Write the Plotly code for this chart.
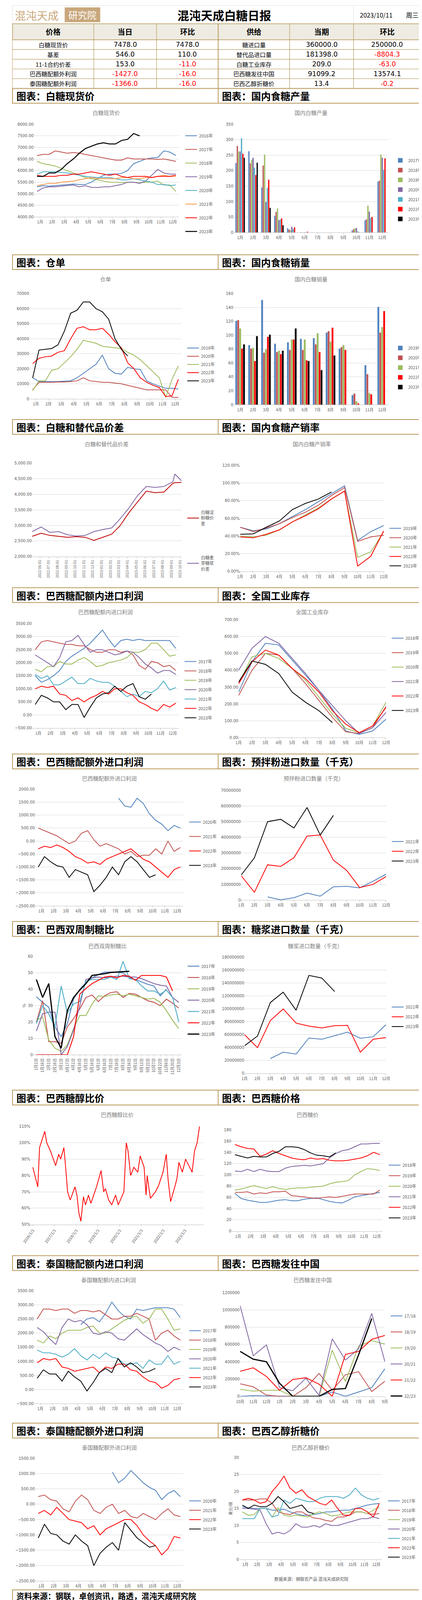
import plotly.graph_objects as go

W, HT = 1080, 4098
FONT = "Noto Sans CJK SC"
BLUE, BROWN, GREEN, PURPLE, TEAL, ORANGE, RED, BLACK = "#4F81BD", "#C0504D", "#9BBB59", "#8064A2", "#4BACC6", "#F79646", "#FF0000", "#000000"
MONTHS = [f"{i}月" for i in range(1, 13)]
SEASON_MONTHS = ["10月", "11月", "12月", "1月", "2月", "3月", "4月", "5月", "6月", "7月", "8月", "9月"]

# ---------------- table data ----------------
price_names = ["白糖现货价", "基差", "11-1合约价差", "巴西糖配额外利润", "泰国糖配额外利润"]
price_today = ["7478.0", "546.0", "153.0", "-1427.0", "-1366.0"]
price_chg = ["7478.0", "110.0", "-11.0", "-16.0", "-16.0"]
supply_names = ["糖进口量", "替代品进口量", "白糖工业库存", "巴西糖发往中国", "巴西乙醇折糖价"]
supply_now = ["360000.0", "181398.0", "209.0", "91099.2", "13.4"]
supply_chg = ["250000.0", "-8804.3", "-63.0", "13574.1", "-0.2"]

# ---------------- chart data ----------------
spot_2016 = [5300, 5350, 5330, 5350, 5370, 5400, 5420, 5400, 5400, 5500, 5650, 5800, 5850, 5850, 5880, 6000, 6300, 6400, 6500, 6550, 6560, 6850, 6800, 6650]
spot_2017 = [6650, 6700, 6700, 6850, 6800, 6750, 6780, 6750, 6700, 6650, 6600, 6550, 6500, 6450, 6450, 6550, 6500, 6500, 6500, 6500, 6480, 6500, 6450, 6400]
spot_2018 = [6400, 6300, 6250, 6200, 6100, 6000, 5900, 5800, 5700, 5650, 5600, 5550, 5500, 5500, 5480, 5500, 5500, 5470, 5500, 5500, 5550, 5380, 5380, 5100]
spot_2019 = [5100, 5250, 5300, 5300, 5330, 5350, 5380, 5300, 5350, 5280, 5270, 5300, 5300, 5350, 5400, 5500, 5500, 5450, 5550, 5800, 6050, 5900, 5850, 5850]
spot_2020 = [5850, 5950, 5950, 5950, 5920, 5900, 5850, 5800, 5750, 5720, 5700, 5700, 5700, 5650, 5600, 5600, 5650, 5600, 5550, 5500, 5400, 5400, 5350, 5380]
spot_2021 = [5350, 5400, 5450, 5450, 5500, 5520, 5550, 5600, 5650, 5700, 5650, 5650, 5650, 5650, 5700, 5700, 5650, 5650, 5700, 5700, 5750, 5800, 5750, 5750]
spot_2022 = [5800, 5750, 5750, 5750, 5800, 5800, 5850, 5850, 5900, 5950, 5900, 5850, 5800, 5850, 5750, 5700, 5750, 5750, 5750, 5700, 5750, 5750, 5750, 5800]
spot_2023 = [5750, 5750, 5900, 5900, 6050, 6300, 6500, 6750, 6950, 7050, 7150, 7200, 7150, 7150, 7300, 7350, 7600, 7500]

prod_2017 = [225, 263, 146, 54, 14, 1, 0, 0, 0, 7, 40, 165]
prod_2018 = [280, 224, 217, 67, 10, 1, 0, 0, 0, 11, 43, 168]
prod_2019 = [262, 235, 252, 78, 8, 1, 0, 0, 0, 14, 87, 252]
prod_2020 = [262, 242, 99, 40, 19, 1, 0, 0, 0, 15, 68, 242]
prod_2021 = [305, 210, 145, 42, 12, 1, 0, 0, 0, 4, 47, 203]
prod_2022 = [255, 186, 171, 46, 17, 3, 0, 0, 0, 1, 51, 240]
prod_2023 = [242, 226, 80, 24, 0]

wr_2019 = [14000, 11500, 11500, 11500, 11500, 11800, 12000, 14000, 17000, 20000, 23000, 29000, 20000, 17000, 16500, 21000, 20000, 19500, 12000, 10000, 8500, 7000, 7000, 6500]
wr_2020 = [6000, 11000, 11000, 11000, 11200, 11200, 11500, 12000, 14000, 12000, 11500, 11000, 11000, 10500, 10000, 9000, 8000, 7000, 6000, 6000, 6000, 6000, 1000, 1000]
wr_2021 = [5500, 12000, 12000, 19000, 20000, 24000, 28000, 33000, 39000, 38000, 37000, 35000, 34500, 34000, 33500, 31000, 29000, 26000, 22000, 18000, 14000, 1000, 13000, 22000]
wr_2022 = [23500, 27000, 28000, 28500, 31000, 32000, 40000, 47000, 48000, 46000, 46000, 47000, 43000, 38000, 34000, 24000, 20000, 14000, 11000, 9000, 7500, 1500, 2000, 13000]
wr_2023 = [14000, 32500, 33000, 33500, 36000, 45000, 57000, 59000, 64500, 64500, 60000, 58000, 53000, 40000, 33000, 28500]

sales_2019 = [121, 86, 151, 88, 90, 95, 96, 104, 81, 14, 57, 141]
sales_2020 = [122, 81, 75, 76, 79, 79, 87, 106, 83, 16, 44, 104]
sales_2021 = [110, 82, 80, 78, 94, 94, 103, 91, 86, 5, 17, 112]
sales_2022 = [81, 63, 98, 73, 94, 64, 76, 111, 79, 2, 15, 135]
sales_2023 = [87, 99, 101, 78, 110, 63, 50, 71]

sub_dates = ["2022-05-05", "2022-06-05", "2022-07-05", "2022-08-05", "2022-09-05", "2022-10-05", "2022-11-05", "2022-12-05", "2023-01-05", "2023-02-05", "2023-03-05", "2023-04-05", "2023-05-05", "2023-06-05", "2023-07-05", "2023-08-05", "2023-09-05", "2023-09-12", "2023-10-05"]
sub_starch = [2650, 2750, 2680, 2650, 2620, 2640, 2620, 2520, 2620, 2720, 2980, 3400, 3750, 4100, 4050, 4070, 4350, 4370, 4380]
sub_malt = [2800, 2950, 2780, 2800, 2700, 2660, 2680, 2800, 2870, 2920, 3200, 3550, 3950, 4250, 4220, 4250, 4400, 4650, 4430]

ps_2019 = [50, 46, 48, 54, 62, 70, 79, 88, 97, 35, 45, 52]
ps_2020 = [50, 45, 49, 54, 61, 67, 75, 86, 95, 34, 39, 41]
ps_2021 = [40, 39, 41, 47, 56, 64, 72, 82, 91, 16, 22, 45]
ps_2022 = [39, 38, 42, 47, 56, 63, 71, 82, 91, 6, 17, 46]
ps_2023 = [42, 42.5, 50, 57, 70, 77, 82, 90]

bin_2017 = [1500, 1250, 1350, 1500, 1700, 2050, 2250, 2400, 2550, 2750, 3000, 3250, 2900, 2600, 2850, 2900, 2850, 2900, 2850, 2850, 2850, 2850, 2850, 2550]
bin_2018 = [2500, 2800, 2850, 2800, 2750, 2700, 2700, 2650, 2650, 2500, 2400, 2400, 2500, 2500, 2400, 2450, 2300, 1900, 1750, 2050, 2000, 1850, 1900, 1700]
bin_2019 = [1750, 1650, 1850, 1850, 2050, 1950, 1950, 2100, 2200, 2050, 1850, 1900, 2000, 2050, 2100, 2200, 2400, 2400, 2500, 2750, 2750, 2500, 2250, 2300]
bin_2020 = [2300, 2150, 2000, 1850, 2200, 2800, 2850, 3050, 2700, 2400, 2500, 2500, 2400, 2300, 2350, 2450, 2400, 2200, 1950, 1800, 1600, 1700, 1700, 1550]
bin_2021 = [1550, 1400, 1500, 1150, 1150, 1300, 1450, 1200, 1200, 1400, 1300, 1250, 1250, 1100, 900, 700, 800, 700, 900, 850, 1000, 1300, 950, 1050]
bin_2022 = [1000, 1100, 1050, 1100, 800, 750, 550, 650, 500, 650, 750, 900, 800, 1000, 1000, 850, 750, 500, 400, 250, 150, 400, 300, 450]
bin_2023 = [400, 750, 650, 500, 500, 200, 400, 400, -100, 300, 650, 800, 850, 1100, 900, 1100, 1200, 700, 600, 800]

inv_2018 = [270, 450, 560, 550, 460, 370, 280, 170, 40, 20, 40, 110]
inv_2019 = [250, 400, 500, 490, 410, 320, 220, 120, 35, 25, 60, 185]
inv_2020 = [320, 480, 500, 470, 410, 340, 240, 140, 55, 30, 70, 210]
inv_2021 = [400, 530, 600, 560, 470, 380, 280, 190, 100, 25, 60, 150]
inv_2022 = [320, 450, 520, 490, 410, 350, 270, 160, 80, 30, 70, 180]
inv_2023 = [330, 455, 435, 380, 270, 210, 160, 90]

bout_2020 = [None] * 13 + [1650, 1350, 1300, 1650, 1450, 1050, 800, 650, 400, 600, 500]
bout_2021 = [500, 400, 300, 200, 50, -100, 0, 300, 400, 50, -200, -100, -200, -300, -500, -400, -600, -550, -550, -300, -500, 0, -400, -250]
bout_2022 = [-300, -200, -250, -150, -250, -400, -600, -700, -850, -800, -900, -700, -600, -500, -400, -300, -500, -700, -800, -1000, -1200, -1400, -1100, -1000]
bout_2023 = [-1000, -600, -800, -950, -1000, -1400, -1100, -1200, -1300, -1950, -1700, -1400, -1000, -1300, -800, -600, -800, -1100, -1400, -1300]

pm_2021 = [None, None, 2000000, 200000, 1500000, 4500000, 2500000, 8500000, 8800000, 7800000, 12000000, 16500000]
pm_2022 = [15500000, 5000000, 22500000, 21500000, 27000000, 40800000, 41500000, 25500000, 19000000, 8000000, 10000000, 15000000]
pm_2023 = [16000000, 27000000, 50000000, 51500000, 46000000, 59000000, 41500000, 54000000]

sr_2017 = [35.5, 32, 29, 17, 11, 19, 34, 40, 44, 47, 49, 50.5, 50.5, 50.5, 50, 47, 46, 44.5, 43, 42, 36, 40]
sr_2018 = [20, 33, 8, 8, 7, 17, 22, 28, 35, 36.5, 32.5, 36, 38, 38.5, 35, 37.5, 37, 35, 33, 32, 30, 34, 31.5, 28.5]
sr_2019 = [21, 23, 9, 4, 2, 6, 16, 24, 24, 31, 36, 35.5, 36.5, 37, 36, 37, 36, 35, 34, 34.5, 32, 27, 21, 16]
sr_2020 = [14.5, 25, 26, 26, 0, 5, 15, 30, 46, 47, 47.5, 47, 47.5, 48, 48, 47.5, 47.5, 46.5, 45, 43.5, 42.5, 42, 35, 32]
sr_2021 = [19, 30, 25, 17, 42, 25.5, 31, 32.5, 45, 46, 46, 46, 47.5, 46, 57, 46.5, 46, 42, 39, 39, 37, 39.5, 35, 20]
sr_2022 = [0, 0, 0, 0, 0, 0, 11, 37, 40.5, 43.5, 45.5, 47.5, 48, 47, 48.5, 48, 45.5, 48.5, 48.5, 48.5, 48.5, 47.5, 39]
sr_2023 = [46, 35, 43.5, 11, 4, 27, 35, 39.5, 43.5, 48.5, 49, 49.5, 50.3, 50.6, 50.8, 51]
sr_ticks = ["1月1日", "1月16日", "2月1日", "2月16日", "3月1日", "3月17日", "4月1日", "4月16日", "5月1日", "5月16日", "6月1日", "6月16日", "7月1日", "7月16日", "8月1日", "8月16日", "9月1日", "9月12日", "9月22日", "10月7日", "10月22日", "11月6日", "11月20日", "12月3日"]

syr_2021 = [None, None, 23e6, 33e6, 30e6, 55e6, 53e6, 58.5e6, 64e6, 54.5e6, 57e6, 75.5e6]
syr_2022 = [60e6, 40e6, 82e6, 100e6, 78e6, 73.5e6, 70.5e6, 74e6, 74.5e6, 33e6, 53e6, 55.5e6]
syr_2023 = [43e6, 58e6, 110e6, 126e6, 98e6, 152e6, 148e6, 127e6]

se_year = [2016.0, 2016.23, 2016.31, 2016.55, 2016.64, 2016.81, 2017.05, 2017.19, 2017.28, 2017.43, 2017.51, 2017.6, 2017.72, 2017.94, 2018.03, 2018.12, 2018.21, 2018.33, 2018.42, 2018.56, 2018.67, 2018.93, 2019.14, 2019.26, 2019.34, 2019.49, 2019.63, 2019.81, 2019.93, 2020.19, 2020.3, 2020.38, 2020.5, 2020.65, 2020.83, 2020.94, 2021.12, 2021.21, 2021.26, 2021.41, 2021.64, 2021.79, 2021.99, 2022.14, 2022.22, 2022.34, 2022.51, 2022.63, 2022.72, 2022.88, 2023.03, 2023.33, 2023.44, 2023.56, 2023.67]
se_ratio = [85, 73, 97, 107, 100, 95, 86, 93, 90, 97, 85, 70, 65, 73, 68, 57, 52, 67, 62, 68, 63, 73, 83, 70, 72, 65, 62, 68, 62, 70, 100, 95, 80, 85, 82, 92, 85, 68, 80, 66, 70, 74, 82, 93, 78, 64, 72, 78, 88, 82, 90, 82, 95, 100, 110]

bp_2018 = [67, 58, 55, 53, 51, 51, 53, 55, 56, 54, 54, 57, 58, 59, 56, 53, 51, 50, 55, 61, 63, 65, 67, 69]
bp_2019 = [69, 69, 70, 66, 68, 67, 70, 70, 71, 63, 62, 61, 59, 58, 60, 61, 60, 62, 64, 66, 66, 66, 66, 73]
bp_2020 = [73, 75, 78, 81, 78, 76, 79, 76, 74, 76, 77, 77, 78, 79, 80, 84, 87, 88, 90, 100, 106, 111, 110, 108]
bp_2021 = [107, 106, 110, 106, 110, 107, 106, 106, 112, 115, 116, 117, 116, 118, 120, 130, 138, 143, 145, 150, 155, 155, 156, 156]
bp_2022 = [154, 150, 147, 146, 133, 137, 143, 138, 134, 130, 128, 127, 130, 128, 129, 126, 125, 125, 126, 128, 130, 134, 140, 136]
bp_2023 = [136, 133, 130, 133, 132, 132, 138, 142, 150, 150, 149, 145, 139, 135, 134, 132, 139]

tin_2017 = [None] * 7 + [2300, 2500, 2550, 2400, 2700, 3100, 2800, 2600, 2500, 2850, 2800, 2850, 2900, 2900, 2900, 2850, 2550]
tin_2018 = [2500, 2850, 2850, 2800, 2850, 2850, 2700, 2800, 2800, 2750, 2800, 2650, 2500, 2500, 2600, 2600, 2700, 2600, 2500, 1750, 2000, 2100, 1900, 1750]
tin_2019 = [1750, 1650, 1900, 1800, 2000, 2100, 2100, 2100, 2200, 2250, 2000, 2000, 2150, 2300, 2450, 2550, 2600, 2350, 2500, 2850, 2850, 2500, 2100, 2150]
tin_2020 = [2200, 2050, 1800, 1600, 2200, 2500, 2400, 2450, 2300, 2000, 1950, 2050, 2000, 1800, 1750, 1950, 2150, 1950, 1800, 1650, 1550, 1350, 1500, 1400]
tin_2021 = [1400, 1300, 1300, 1250, 1150, 1250, 1450, 1200, 1050, 1250, 1100, 1300, 1150, 1100, 900, 900, 950, 750, 1050, 900, 900, 1200, 900, 1000]
tin_2022 = [950, 1100, 1050, 1100, 800, 750, 650, 700, 750, 800, 600, 800, 750, 900, 900, 700, 650, 450, 300, 250, 50, 150, 350, 400]
tin_2023 = [400, 700, 550, 550, 300, 650, 450, 300, -50, 250, 600, 750, 600, 1100, 800, 950, 800, 600, 650, 750]

bc_1718 = [0, 8000, 5000, 2000, 0, 0, 0, 50000, 0, 50000, 100000, 320000]
bc_1819 = [145000, 110000, 15000, 0, 0, 100000, 265000, 70000, 250000, 285000, 55000, 175000]
bc_1920 = [80000, 60000, 70000, 70000, 0, 0, 0, 535000, 170000, 580000, 645000, 605000]
bc_2021 = [1050000, 470000, 595000, 100000, 65000, 210000, 10000, 665000, 420000, 550000, 960000, 400000]
bc_2122 = [290000, 330000, 230000, 70000, 195000, 215000, 140000, 0, 485000, 520000, 660000, 705000]
bc_2223 = [520000, 430000, 400000, 150000, 0, 0, 0, 80000, 90000, 480000, 900000]

tout_2020 = [None] * 12 + [1050, 700, 850, 1100, 900, 700, 550, 450, 150, 350, 450, 250]
tout_2021 = [250, 300, 150, 100, -150, -250, 100, 300, 150, -200, -300, -100, 0, -300, -200, -400, -450, -300, -400, -500, -300, -150, -350, -400]
tout_2022 = [-300, -200, -350, -100, -300, -500, -550, -600, -800, -700, -1000, -800, -700, -600, -500, -500, -700, -1000, -1200, -1350, -1650, -1450, -1050, -1100]
tout_2023 = [-1100, -650, -950, -1000, -1200, -1300, -1000, -1200, -1350, -2000, -1600, -1400, -1250, -1500, -600, -850, -1100, -1250, -1400, -1350]

eth_2017 = [15.5, 15.2, 15, 15, 15, 14.5, 14.5, 14.8, 14, 13.5, 13, 13, 13.2, 13.5, 14, 14, 14.3, 14.5, 14.5, 15, 15.5, 16, 16.3, 16.5]
eth_2018 = [17.5, 17.5, 17.5, 17.8, 17.8, 16.5, 14, 13.5, 13.2, 14, 14, 13, 12.2, 12, 11.5, 11.2, 12.5, 12.5, 13, 14, 14, 13.5, 13.3, 13.5]
eth_2019 = [14, 13, 13.2, 15, 15, 12.5, 15.2, 13, 12.7, 13, 12.8, 12.5, 13.5, 14, 13.5, 12.8, 13, 13.5, 14, 14, 14, 13.5, 14.5, 15.5]
eth_2020 = [15, 15, 14.8, 14.5, 10.5, 7.5, 8, 7.5, 8.5, 10.5, 9.5, 9.5, 10, 9.5, 10.5, 10, 10, 10.5, 11, 11.5, 12, 12, 12.5, 12]
eth_2021 = [12, 12, 12, 15, 15, 12.5, 13, 17.5, 16.5, 18, 17.5, 17, 17, 18, 18.5, 18.5, 18.5, 18, 19, 21, 19, 18, 17.5, 18]
eth_2022 = [17.5, 18, 17.5, 16.5, 17, 20, 22, 24.5, 21, 19.5, 20.5, 18.5, 17.5, 16.5, 16, 17.5, 15, 13, 13, 15, 15, 14, 12.5, 16.5]
eth_2023 = [16, 15, 16, 15.5, 15.5, 16.5, 18.5, 17, 15, 15.5, 16, 14, 13.5]

SECTIONS = [("白糖现货价", "国内食糖产量"), ("仓单", "国内食糖销量"), ("白糖和替代品价差", "国内食糖产销率"),
            ("巴西糖配额内进口利润", "全国工业库存"), ("巴西糖配额外进口利润", "预拌粉进口数量（千克）"),
            ("巴西双周制糖比", "糖浆进口数量（千克）"), ("巴西糖醇比价", "巴西糖价格"),
            ("泰国糖配额内进口利润", "巴西糖发往中国"), ("泰国糖配额外进口利润", "巴西乙醇折糖价")]
HTOP = [213, 640, 1063, 1495, 1922, 2352, 2785, 3210, 3640]

GOLD = "#B8985A"
fig = go.Figure()
shapes, ann = [], []


def px(x):
    return x / W


def py(y):
    return 1 - y / HT


def rect(x0, y0, x1, y1, fill=None, line=GOLD, lw=1.5):
    shapes.append(dict(type="rect", xref="paper", yref="paper", x0=px(x0), x1=px(x1), y0=py(y1), y1=py(y0),
                       fillcolor=fill if fill else "rgba(0,0,0,0)", line=dict(color=line, width=lw), layer="below"))


def text(x, y, s, size=14, color="#000", xanchor="center", bold=False, family=FONT):
    ann.append(dict(xref="paper", yref="paper", x=px(x), y=py(y), text=f"<b>{s}</b>" if bold else s, showarrow=False,
                    xanchor=xanchor, yanchor="middle", font=dict(size=size, color=color, family=family)))


# ---- header ----
rect(0, 0, 1080, 47, line="#DDDDDD", lw=1)
text(4, 25, "混沌天成", 28, "#C9A77C", "left")
rect(138, 5, 232, 43, fill="#C9A77C", line="#C9A77C", lw=0)
text(185, 24, "研究院", 24, "#FFFFFF")
text(560, 24, "混沌天成白糖日报", 30, "#000", bold=True)
shapes.append(dict(type="line", xref="paper", yref="paper", x0=px(902), x1=px(902), y0=py(47), y1=py(0), line=dict(color="#DDDDDD", width=1)))
text(962, 24, "2023/10/11", 16, "#000")
text(1057, 24, "周三", 16, "#000")
colx = [0, 215, 381, 544, 733, 902, 1080]
rect(0, 47, 1080, 88, fill="#EEEBE2", line=GOLD)
for i, h in enumerate(["价格", "当日", "环比", "供给", "当期", "环比"]):
    text((colx[i] + colx[i + 1]) / 2, 67, h, 19, "#000", bold=True)
for r in range(5):
    y0 = 88 + 25 * r
    rect(0, y0, 1080, y0 + 25, line=GOLD, lw=1)
    vals = [price_names[r], price_today[r], price_chg[r], supply_names[r], supply_now[r], supply_chg[r]]
    for i, v in enumerate(vals):
        col = RED if v.startswith("-") else "#000"
        text((colx[i] + colx[i + 1]) / 2, y0 + 12.5, v, 15 if i in (0, 3) else 17, col, family=FONT if i in (0, 3) else "Liberation Sans Narrow, DejaVu Sans")
for xx in colx[1:-1]:
    shapes.append(dict(type="line", xref="paper", yref="paper", x0=px(xx), x1=px(xx), y0=py(213), y1=py(47), line=dict(color=GOLD, width=1.2 if xx != 544 else 2)))

# ---- section headers ----
for (l, r), H in zip(SECTIONS, HTOP):
    rect(0, H, 1080, H + 38, fill="#FFFFFF", line=GOLD, lw=2)
    shapes.append(dict(type="line", xref="paper", yref="paper", x0=px(544), x1=px(544), y0=py(H + 38), y1=py(H), line=dict(color=GOLD, width=2)))
    text(8, H + 19, "图表：" + l, 25, "#000", "left", bold=True)
    text(552, H + 19, "图表：" + r, 25, "#000", "left", bold=True)
rect(0, 4068, 1080, 4098, fill="#FFFFFF", line=GOLD, lw=2)
text(8, 4083, "资料来源：钢联，卓创资讯，路透，混沌天成研究院", 20, "#000", "left", bold=True)

layout_axes = {}
nchart = [0]
semi_x = list(range(24))
month_centers = [2 * i + 0.5 for i in range(12)]


def chart(H, side, title, series, yr, dtick, tfmt="", tsuffix="", xvals=None, xtext=None, xrange=None,
          bars=False, legend=True, ytitle=None, xangle=0, top=92, bot=365, xr=None, gap=14):
    nchart[0] += 1
    n = nchart[0]
    sfx = "" if n == 1 else str(n)
    if side == "L":
        x0, x1, lx = 57, 440, 452
    else:
        x0, x1, lx = 600, 990, 1002
    if xr:
        x0, x1 = xr
        lx = x1 + 10
    for s in series:
        name, xs, ys, color = s[:4]
        wdt = s[4] if len(s) > 4 else 2
        kw = dict(name=name, x=xs[:len(ys)], y=ys, xaxis="x" + sfx, yaxis="y" + sfx, legend="legend" + sfx,
                  showlegend=legend, legendgroup=f"{n}_{name}")
        if bars:
            fig.add_trace(go.Bar(marker_color=color, **kw))
        else:
            fig.add_trace(go.Scatter(mode="lines", line=dict(color=color, width=wdt), connectgaps=False, **kw))
    xa = dict(domain=[px(x0), px(x1)], anchor="y" + sfx, showgrid=False, showline=True, linecolor="#BFBFBF",
              ticks="outside", tickcolor="#BFBFBF", ticklen=4, tickfont=dict(size=10, color="#595959", family=FONT),
              tickangle=xangle, zeroline=False)
    if xvals is not None:
        xa.update(tickmode="array", tickvals=xvals, ticktext=xtext)
    if xrange:
        xa["range"] = xrange
    ya = dict(domain=[py(H + bot), py(H + top)], anchor="x" + sfx, range=yr, dtick=dtick, showgrid=True,
              gridcolor="#D9D9D9", zeroline=False, showline=False, tickformat=tfmt, ticksuffix=tsuffix,
              tickfont=dict(size=10, color="#595959", family="Liberation Sans Narrow, DejaVu Sans"))
    if ytitle:
        ya["title"] = dict(text=ytitle, font=dict(size=10, color="#595959", family=FONT), standoff=2)
    layout_axes["xaxis" + sfx] = xa
    layout_axes["yaxis" + sfx] = ya
    layout_axes["legend" + sfx] = dict(x=px(lx), y=py(H + top + 15), xanchor="left", yanchor="top", bgcolor="rgba(0,0,0,0)",
                                      font=dict(size=11, color="#595959", family=FONT), tracegroupgap=gap, itemwidth=30,
                                      visible=legend)
    text((x0 + x1) / 2, H + 62, title, 14, "#7F7F7F")


# section 1
H = HTOP[0]
chart(H, "L", "白糖现货价", [("2016年", semi_x, spot_2016, BLUE), ("2017年", semi_x, spot_2017, BROWN), ("2018年", semi_x, spot_2018, GREEN),
                          ("2019年", semi_x, spot_2019, PURPLE), ("2020年", semi_x, spot_2020, TEAL), ("2021年", semi_x, spot_2021, ORANGE),
                          ("2022年", semi_x, spot_2022, RED), ("2023年", semi_x, spot_2023, BLACK, 2.5)],
      [4000, 8000], 500, ".2f", xvals=month_centers, xtext=MONTHS, xrange=[-0.5, 23.5], bot=330, gap=16)
chart(H, "R", "国内白糖产量", [(f"{y}年", MONTHS, d, c) for y, d, c in zip(range(2017, 2024),
      [prod_2017, prod_2018, prod_2019, prod_2020, prod_2021, prod_2022, prod_2023], [BLUE, BROWN, GREEN, PURPLE, TEAL, RED, BLACK])],
      [0, 350], 50, bars=True, xr=(585, 995), bot=370, gap=6)
layout_axes["legend2"].update(y=py(H + 170))
# section 2
H = HTOP[1]
chart(H, "L", "仓单", [(f"{y}年", semi_x, d, c) for y, d, c in zip(range(2019, 2024), [wr_2019, wr_2020, wr_2021, wr_2022, wr_2023], [BLUE, BROWN, GREEN, RED, BLACK])],
      [0, 70000], 10000, "d", xvals=month_centers, xtext=MONTHS, xrange=[-0.5, 23.5], xr=(45, 447), top=100, bot=370, gap=2)
layout_axes["legend3"].update(y=py(H + 225))
chart(H, "R", "国内白糖销量", [(f"{y}年", MONTHS, d, c) for y, d, c in zip(range(2019, 2024), [sales_2019, sales_2020, sales_2021, sales_2022, sales_2023], [BLUE, BROWN, GREEN, RED, BLACK])],
      [0, 160], 20, bars=True, xr=(585, 995), top=100, bot=385, gap=6)
layout_axes["legend4"].update(y=py(H + 225))
# section 3
H = HTOP[2]
chart(H, "L", "白糖和替代品价差", [("白糖淀<br>粉糖价<br>差", sub_dates, sub_starch, "#C00000"), ("白糖麦<br>芽糖浆<br>价差", sub_dates, sub_malt, PURPLE)],
      [2000, 5000], 500, ",.2f", xr=(52, 447), top=112, bot=352, gap=70)
layout_axes["xaxis5"].update(tickformat="%Y-%m-%d", dtick="M1", tickangle=-90, tickfont=dict(size=9, color="#595959"))
layout_axes["legend5"].update(y=py(H + 225))
chart(H, "R", "国内白糖产销率", [(f"{y}年", MONTHS, d, c) for y, d, c in zip(range(2019, 2024), [ps_2019, ps_2020, ps_2021, ps_2022, ps_2023], [BLUE, BROWN, GREEN, RED, BLACK])],
      [0, 120], 20, ".2f", "%", xr=(602, 982), top=118, bot=390, gap=5)
layout_axes["legend6"].update(y=py(H + 265))
# section 4
H = HTOP[3]
chart(H, "L", "巴西糖配额内进口利润", [(f"{y}年", semi_x, d, c) for y, d, c in zip(range(2017, 2024),
      [bin_2017, bin_2018, bin_2019, bin_2020, bin_2021, bin_2022, bin_2023], [BLUE, BROWN, GREEN, PURPLE, TEAL, RED, BLACK])],
      [-500, 3500], 500, ".2f", xvals=month_centers, xtext=MONTHS, xrange=[-0.5, 23.5], xr=(52, 440), top=92, bot=360, gap=5)
layout_axes["legend7"].update(y=py(H + 175))
chart(H, "R", "全国工业库存", [(f"{y}年", MONTHS, d, c) for y, d, c in zip(range(2018, 2024),
      [inv_2018, inv_2019, inv_2020, inv_2021, inv_2022, inv_2023], [BLUE, BROWN, GREEN, PURPLE, RED, BLACK])],
      [0, 700], 100, ".2f", xr=(598, 988), top=82, bot=385, gap=18)
layout_axes["legend8"].update(y=py(H + 115))
# section 5
H = HTOP[4]
chart(H, "L", "巴西糖配额外进口利润", [(f"{y}年", semi_x, d, c) for y, d, c in zip(range(2020, 2024),
      [bout_2020, bout_2021, bout_2022, bout_2023], [BLUE, BROWN, RED, BLACK])],
      [-2500, 2000], 500, ".2f", xvals=month_centers, xtext=MONTHS, xrange=[-0.5, 23.5], xr=(60, 452), top=90, bot=390, gap=18)
layout_axes["legend9"].update(y=py(H + 160))
chart(H, "R", "预拌粉进口数量（千克）", [(f"{y}年", MONTHS, d, c) for y, d, c in zip(range(2021, 2024), [pm_2021, pm_2022, pm_2023], [BLUE, RED, BLACK])],
      [0, 70000000], 10000000, "d", xr=(605, 988), top=93, bot=375, gap=6)
layout_axes["legend10"].update(y=py(H + 210))
# section 6
H = HTOP[5]
chart(H, "L", "巴西双周制糖比", [(f"{y}年", semi_x, d, c, 3 if y == 2023 else 2.2) for y, d, c in zip(range(2017, 2024),
      [sr_2017, sr_2018, sr_2019, sr_2020, sr_2021, sr_2022, sr_2023], [BLUE, BROWN, GREEN, PURPLE, TEAL, RED, BLACK])],
      [0, 60], 10, xvals=semi_x, xtext=sr_ticks, xrange=[-0.5, 23.5], xangle=-90, ytitle="%", xr=(55, 448), top=90, bot=342, gap=10)
layout_axes["legend11"].update(y=py(H + 100))
chart(H, "R", "糖浆进口数量（千克）", [(f"{y}年", MONTHS, d, c) for y, d, c in zip(range(2021, 2024), [syr_2021, syr_2022, syr_2023], [BLUE, RED, BLACK])],
      [0, 180000000], 20000000, "d", xr=(614, 988), top=92, bot=390, gap=6)
layout_axes["legend12"].update(y=py(H + 205))
# section 7
H = HTOP[6]
chart(H, "L", "巴西糖醇比价", [("糖醇比价", se_year, se_ratio, RED)], [50, 110], 10, "", "%",
      xvals=list(range(2016, 2024)), xtext=[f"{y}/1/1" for y in range(2016, 2024)], xrange=[2015.9, 2023.85],
      legend=False, xangle=-55, xr=(48, 505), top=93, bot=345)
chart(H, "R", "巴西糖价", [(f"{y}年", semi_x, d, c) for y, d, c in zip(range(2018, 2024),
      [bp_2018, bp_2019, bp_2020, bp_2021, bp_2022, bp_2023], [BLUE, BROWN, GREEN, PURPLE, RED, BLACK])],
      [0, 180], 20, xvals=month_centers, xtext=MONTHS, xrange=[-0.5, 23.5], xr=(580, 980), top=102, bot=362, gap=8)
layout_axes["legend14"].update(y=py(H + 178))
# section 8
H = HTOP[7]
chart(H, "L", "泰国糖配额内进口利润", [(f"{y}年", semi_x, d, c) for y, d, c in zip(range(2017, 2024),
      [tin_2017, tin_2018, tin_2019, tin_2020, tin_2021, tin_2022, tin_2023], [BLUE, BROWN, GREEN, PURPLE, TEAL, RED, BLACK])],
      [-500, 3500], 500, ".2f", xvals=month_centers, xtext=MONTHS, xrange=[-0.5, 23.5], xr=(57, 452), top=90, bot=380, gap=5)
layout_axes["legend15"].update(y=py(H + 178))
chart(H, "R", "巴西糖发往中国", [(n, SEASON_MONTHS, d, c, 3 if n == "22/23" else 2) for n, d, c in zip(["17/18", "18/19", "19/20", "20/21", "21/22", "22/23"],
      [bc_1718, bc_1819, bc_1920, bc_2021, bc_2122, bc_2223], [BLUE, BROWN, GREEN, PURPLE, RED, BLACK])],
      [0, 1200000], 200000, "d", xr=(602, 985), top=95, bot=361, gap=22)
layout_axes["legend16"].update(y=py(H + 140))
# section 9
H = HTOP[8]
chart(H, "L", "泰国糖配额外进口利润", [(f"{y}年", semi_x, d, c) for y, d, c in zip(range(2020, 2024),
      [tout_2020, tout_2021, tout_2022, tout_2023], [BLUE, BROWN, RED, BLACK])],
      [-2500, 1500], 500, ".2f", xvals=month_centers, xtext=MONTHS, xrange=[-0.5, 23.5], xr=(60, 452), top=90, bot=405, gap=5)
layout_axes["legend17"].update(y=py(H + 185))
chart(H, "R", "巴西乙醇折糖价", [(f"{y}年", semi_x, d, c) for y, d, c in zip(range(2017, 2024),
      [eth_2017, eth_2018, eth_2019, eth_2020, eth_2021, eth_2022, eth_2023], [BLUE, BROWN, GREEN, PURPLE, TEAL, RED, BLACK])],
      [0, 30], 5, xvals=month_centers, xtext=MONTHS, xrange=[-0.5, 23.5], ytitle="美分/磅", xr=(600, 978), top=88, bot=350, gap=5)
layout_axes["legend18"].update(y=py(H + 185))
text(790, HTOP[8] + 400, "数据来源：钢联农产品 混沌天成研究院", 11, "#595959")

fig.update_layout(width=W, height=HT, margin=dict(l=0, r=0, t=0, b=0), paper_bgcolor="white", plot_bgcolor="white",
                  barmode="group", bargap=0.25, bargroupgap=0, shapes=shapes, annotations=ann, font=dict(family=FONT),
                  **layout_axes)
fig.write_html("out.html")
